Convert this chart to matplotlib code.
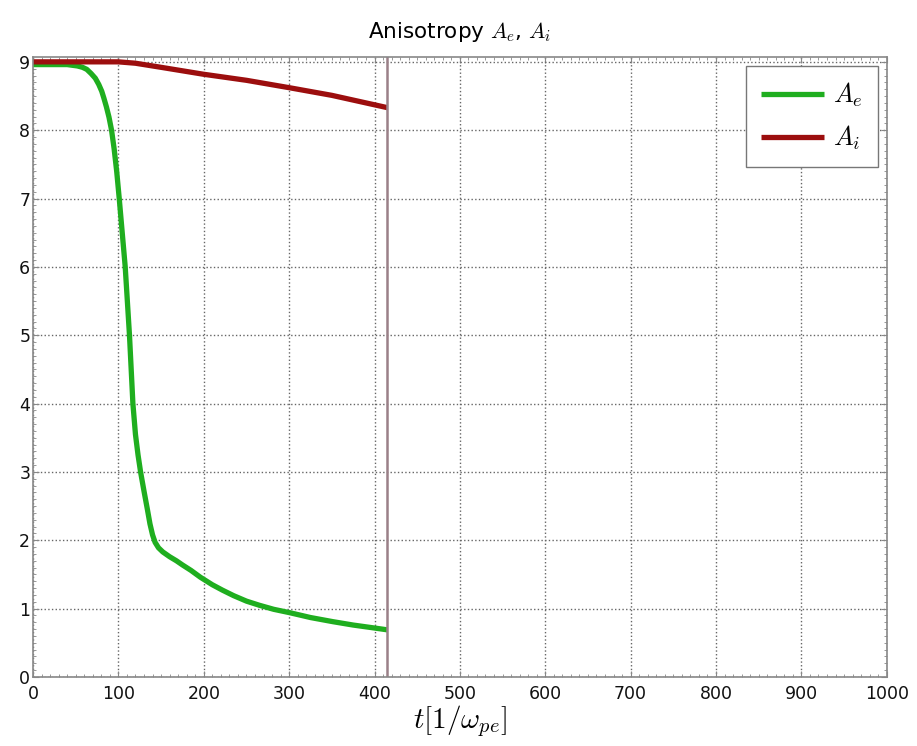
import matplotlib
matplotlib.use('Agg')
import matplotlib.pyplot as plt
from matplotlib.ticker import MultipleLocator

plt.rcParams['mathtext.fontset'] = 'cm'
plt.rcParams['font.family'] = 'DejaVu Sans'

# electron anisotropy A_e versus time
t_e = [0, 40, 52, 58, 63, 68, 73, 77, 80.5, 83, 86, 89, 92, 95, 98, 101, 104.5,
       108, 110.5, 113, 115, 117, 120, 123, 126, 130, 134, 137, 140, 143, 147,
       152, 160, 168, 175, 185, 196, 210, 222, 235, 250, 265, 282, 301, 325,
       351, 375, 398, 415]
a_e = [8.96, 8.96, 8.94, 8.92, 8.89, 8.83, 8.76, 8.67, 8.57, 8.47, 8.34, 8.19,
       8.0, 7.73, 7.4, 7.0, 6.5, 6.0, 5.5, 5.0, 4.5, 4.0, 3.55, 3.25, 3.0, 2.72,
       2.45, 2.24, 2.08, 1.97, 1.89, 1.83, 1.76, 1.70, 1.64, 1.56, 1.46, 1.35,
       1.27, 1.19, 1.11, 1.05, 0.99, 0.94, 0.87, 0.81, 0.76, 0.72, 0.69]

# ion anisotropy A_i versus time
t_i = [0, 60, 100, 120, 150, 199, 250, 301, 350, 415]
a_i = [9.0, 9.0, 9.0, 8.98, 8.92, 8.82, 8.73, 8.62, 8.51, 8.33]

t_now = 415
x_ticks = [0, 100, 200, 300, 400, 500, 600, 700, 800, 900, 1000]
y_ticks = [0, 1, 2, 3, 4, 5, 6, 7, 8, 9]

fig = plt.figure(figsize=(9.17, 7.46), dpi=100)
ax = fig.add_axes([0.036, 0.0925, 0.931, 0.831])

ax.plot(t_e, a_e, color='#1fae1f', linewidth=3.8, label=r'$A_e$', solid_capstyle='butt')
ax.plot(t_i, a_i, color='#9c0e0e', linewidth=3.8, label=r'$A_i$', solid_capstyle='butt')
ax.axvline(t_now, color='#9a8088', linewidth=1.8)

ax.set_xlim(0, 1000)
ax.set_ylim(0, 9.07)
ax.set_xticks(x_ticks)
ax.set_yticks(y_ticks)
ax.xaxis.set_minor_locator(MultipleLocator(10))
ax.yaxis.set_minor_locator(MultipleLocator(0.1))
ax.tick_params(which='both', direction='in', top=True, right=True, colors='#888888',
               labelcolor='#111111', labelsize=12.5)
ax.tick_params(which='major', length=4, width=0.8)
ax.tick_params(which='minor', length=2, width=0.6)
ax.tick_params(axis='x', pad=6)
ax.tick_params(axis='y', pad=2)
ax.grid(True, which='major', linestyle=':', color='#666666', linewidth=1.0)
for sp in ax.spines.values():
    sp.set_color('#888888')
    sp.set_linewidth(1.2)

ax.set_title(r'Anisotropy $A_e$, $A_i$', fontsize=15.5, pad=14)
ax.set_xlabel(r'$t[1/\omega_{pe}]$', fontsize=21, labelpad=0)

leg = ax.legend(loc='upper right', fontsize=19, fancybox=False, framealpha=1,
                edgecolor='#777777', handlelength=2.4, borderpad=0.55,
                labelspacing=0.55, handletextpad=0.35, borderaxespad=0.35)
leg.get_frame().set_linewidth(1.0)

fig.savefig('out.png', dpi=100)
